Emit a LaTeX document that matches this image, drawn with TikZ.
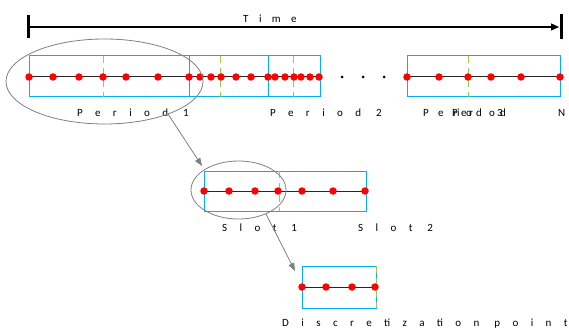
\documentclass[tikz,border=0pt]{standalone}
\usepackage{fontspec}
\setmainfont{Carlito}
\newfontfamily\spc[LetterSpace=113]{Carlito}
\newfontfamily\spct[LetterSpace=95]{Carlito}
\usetikzlibrary{arrows.meta}
\definecolor{boxc}{HTML}{00B0F0}
\definecolor{grn}{HTML}{92D050}
\begin{document}
\begin{tikzpicture}[x=1pt,y=-1pt,
 boxl/.style={draw=boxc, line width=1pt},
 sepl/.style={draw=grn, line width=1pt, dash pattern=on 7pt off 5pt},
 tline/.style={draw=black!85, line width=1pt},
 rdot/.style={circle, fill=red, inner sep=0pt, minimum size=7.5pt},
 bdot/.style={circle, fill=black, inner sep=0pt, minimum size=3pt},
 lab/.style={anchor=base west, inner sep=0pt, font=\spc\fontsize{11}{13}\selectfont},
 labt/.style={anchor=base west, inner sep=0pt, font=\spct\fontsize{11}{13}\selectfont},
 glyph/.style={anchor=base west, inner sep=0pt, font=\fontsize{11}{13}\selectfont},
 ell/.style={draw=gray, line width=0.8pt},
 garrow/.style={draw=gray, line width=0.8pt, -{Triangle[length=8pt,width=6pt]}}]
\useasboundingbox (0,0) rectangle (569,331);

% time axis
\coordinate (t0) at (28,27);
\coordinate (t1) at (559,27);
\coordinate (b0a) at (28,15); \coordinate (b0b) at (28,38);
\coordinate (b1a) at (561,14); \coordinate (b1b) at (561,39);
\draw[line width=1.2pt, -{Triangle[length=8pt,width=7pt]}] (t0) -- (t1);
\draw[line width=3pt] (b0a) -- (b0b);
\draw[line width=3pt] (b1a) -- (b1b);
\node[labt] (time) at (243,23) {Time};

% period boxes
\draw[boxl] (29,56) rectangle (189,97);
\draw[boxl] (189,56) rectangle (268,97);
\draw[boxl] (268,56) rectangle (320,97);
\draw[boxl] (407,56) rectangle (560,97);
\foreach \x in {103,220,293,468} \draw[sepl] (\x,56) -- (\x,97);
\draw[tline] (29,77) -- (320,77);
\draw[tline] (407,77) -- (560,77);
\foreach \x [count=\i] in {29,53,79,103,126,158,189,200,211,221,236,251,268,275,285,294,301,310,319,407,439,468,491,521,560}
  \node[rdot] (p\i) at (\x,77) {};
\foreach \x [count=\i] in {342,363,384}
  \node[bdot] (e\i) at (\x,77) {};

\node[lab] (per1) at (77,117) {Period 1};
\node[lab] (per2) at (270,117) {Period 2};
\foreach \x/\c [count=\i] in {423/P,438/e,452/P,453/r,457/i,461/e,466/o,469/r,476/d,489/o,497/3,500/d,558/N}
  \node[glyph] (g\i) at (\x,117) {\c};

% slot box
\draw[boxl] (204,171) rectangle (366,211);
\draw[sepl] (279,171) -- (279,211);
\draw[tline] (204,191) -- (365,191);
\foreach \x [count=\i] in {204,229,255,278,302,333,365}
  \node[rdot] (s\i) at (\x,191) {};
\node[lab] (slot1) at (222,231) {Slot 1};
\node[lab] (slot2) at (358,231) {Slot 2};

% discretization box
\draw[boxl] (302,266) rectangle (376,308);
\draw[sepl] (376,266) -- (376,308);
\draw[tline] (302,287) -- (375,287);
\foreach \x [count=\i] in {302,326,352,375}
  \node[rdot] (d\i) at (\x,287) {};
\node[lab] (disc) at (282,326) {Discretization point};

% ellipses and arrows
\draw[ell] (104.5,81.5) ellipse [x radius=98.5pt, y radius=42.5pt];
\draw[ell] (238.5,190) ellipse [x radius=47.5pt, y radius=29pt];
\coordinate (a1s) at (168,114); \coordinate (a1e) at (202,166);
\coordinate (a2s) at (266,214); \coordinate (a2e) at (295,271);
\draw[garrow] (a1s) -- (a1e);
\draw[garrow] (a2s) -- (a2e);
\end{tikzpicture}
\end{document}
